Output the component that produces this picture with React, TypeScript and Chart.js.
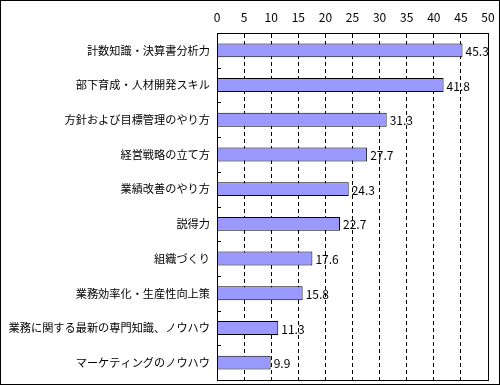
import React, { useEffect, useRef } from "react";
import { Chart, registerables } from "chart.js";

Chart.register(...registerables);

const categories = [
  "計数知識・決算書分析力",
  "部下育成・人材開発スキル",
  "方針および目標管理のやり方",
  "経営戦略の立て方",
  "業績改善のやり方",
  "説得力",
  "組織づくり",
  "業務効率化・生産性向上策",
  "業務に関する最新の専門知識、ノウハウ",
  "マーケティングのノウハウ",
];
const values = [45.3, 41.8, 31.3, 27.7, 24.3, 22.7, 17.6, 15.8, 11.3, 9.9];
const axisMin = 0;
const axisMax = 50;
const axisStep = 5;

const FONT = "'Noto Sans CJK JP', 'Noto Sans', sans-serif";

const framePlugin = {
  id: "framePlugin",
  afterDraw(chart: any) {
    const { ctx, chartArea, scales } = chart;
    const y = scales.y;
    ctx.save();
    ctx.strokeStyle = "#000";
    ctx.lineWidth = 1;
    ctx.setLineDash([]);
    // plot border
    ctx.strokeRect(
      Math.round(chartArea.left) + 0.5,
      Math.round(chartArea.top) + 0.5,
      Math.round(chartArea.right - chartArea.left),
      Math.round(chartArea.bottom - chartArea.top)
    );
    // category boundary ticks (inside)
    const n = categories.length;
    for (let i = 1; i < n; i++) {
      const a = y.getPixelForTick(i - 1);
      const b = y.getPixelForTick(i);
      const yy = Math.round((a + b) / 2) + 0.5;
      ctx.beginPath();
      ctx.moveTo(Math.round(chartArea.left), yy);
      ctx.lineTo(Math.round(chartArea.left) + 4, yy);
      ctx.stroke();
    }
    // outer border
    ctx.strokeRect(0.5, 0.5, chart.width - 1, chart.height - 1);
    // value labels
    ctx.fillStyle = "#000";
    ctx.font = `12px ${FONT}`;
    ctx.textAlign = "left";
    ctx.textBaseline = "middle";
    const meta = chart.getDatasetMeta(0);
    meta.data.forEach((bar: any, i: number) => {
      ctx.fillText(String(values[i]), bar.x + 3, bar.y + 1);
    });
    ctx.restore();
  },
};

export default function App() {
  const ref = useRef<HTMLCanvasElement | null>(null);
  useEffect(() => {
    document.body.style.margin = "0";
    const canvas = ref.current!;
    const chart = new Chart(canvas, {
      type: "bar",
      data: {
        labels: categories,
        datasets: [
          {
            data: values,
            backgroundColor: "#9999FF",
            borderColor: "#000000",
            borderWidth: 1,
            barPercentage: 0.8,
            categoryPercentage: 0.5,
          },
        ],
      },
      options: {
        indexAxis: "y",
        animation: false,
        responsive: false,
        maintainAspectRatio: false,
        layout: { padding: { left: 0, right: 12, top: 0, bottom: 5 } },
        plugins: {
          legend: { display: false },
          tooltip: { enabled: false },
        },
        scales: {
          x: {
            position: "top",
            min: axisMin,
            max: axisMax,
            ticks: {
              stepSize: axisStep,
              color: "#000",
              font: { family: FONT, size: 12 },
              padding: 8,
              maxRotation: 0,
            },
            grid: {
              color: "#000",
              drawTicks: false,
              lineWidth: 1,
            },
            border: { display: true, color: "#000", dash: [4, 3] },
            afterFit: (s: any) => {
              s.height = 33;
              s.paddingLeft = 0;
              s.paddingRight = 0;
            },
          },
          y: {
            ticks: {
              color: "#000",
              font: { family: FONT, size: 11.2 },
              padding: 7,
              autoSkip: false,
            },
            grid: { display: false, drawTicks: false },
            border: { display: true, color: "#000" },
            afterFit: (s: any) => {
              s.width = 217;
              s.paddingTop = 0;
              s.paddingBottom = 0;
            },
          },
        },
      },
      plugins: [framePlugin],
    } as any);
    return () => chart.destroy();
  }, []);
  return (
    <canvas
      ref={ref}
      width={500}
      height={385}
      style={{ display: "block", width: 500, height: 385 }}
    />
  );
}
